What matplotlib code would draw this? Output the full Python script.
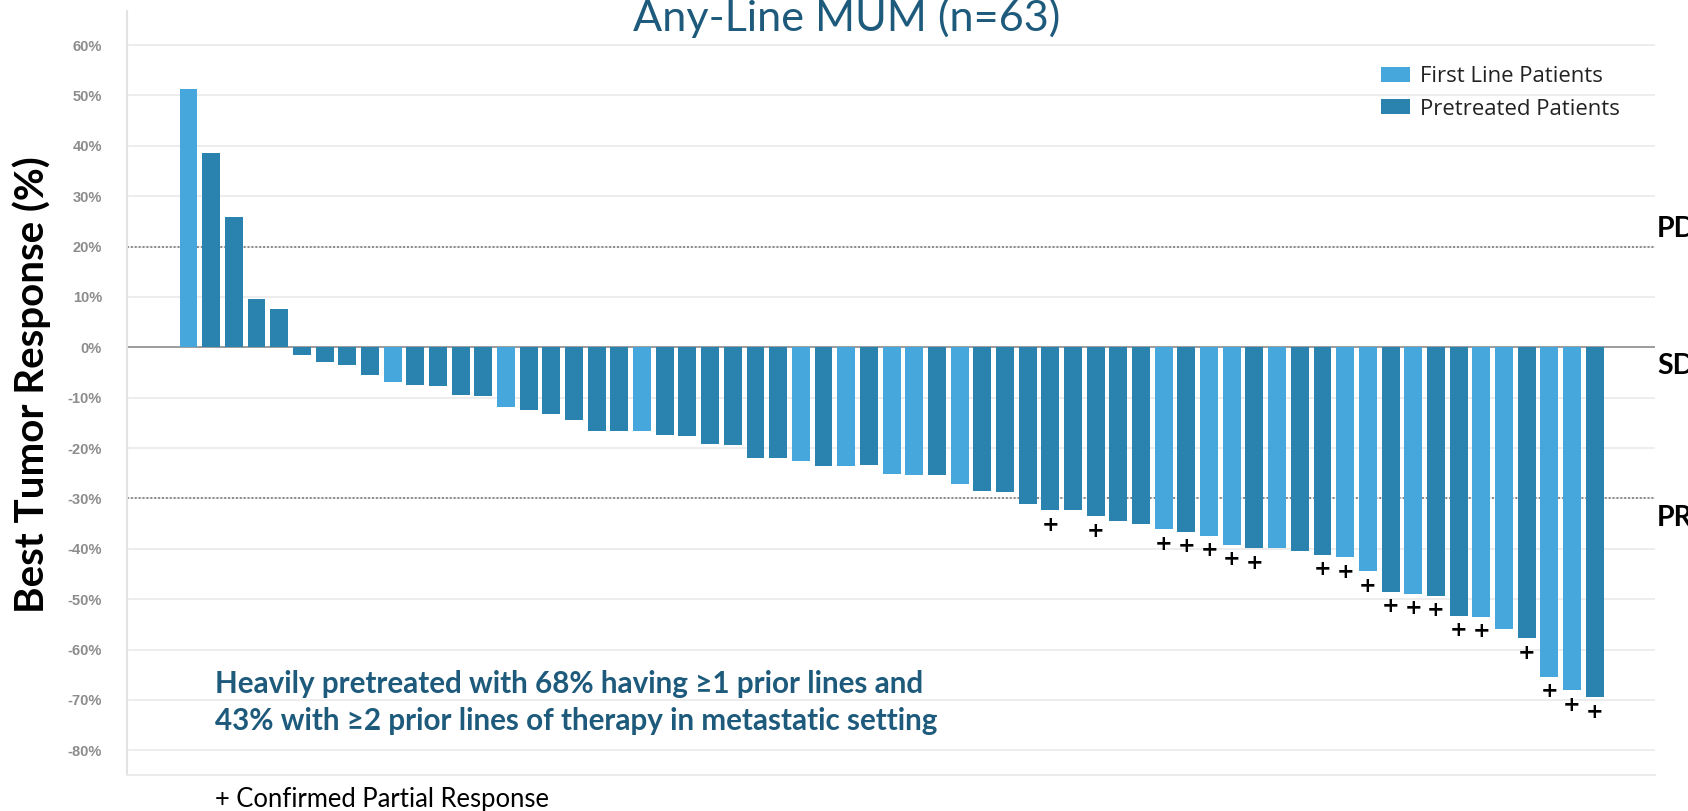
import matplotlib
matplotlib.use('Agg')
import matplotlib.pyplot as plt
from matplotlib.patches import Patch
from matplotlib.transforms import blended_transform_factory

# ---------------- data ----------------
responses = [51.2, 38.6, 25.9, 9.6, 7.6, -1.5, -2.9, -3.5, -5.4, -6.8,
             -7.4, -7.7, -9.4, -9.6, -11.9, -12.4, -13.3, -14.4, -16.6, -16.6,
             -16.6, -17.4, -17.7, -19.2, -19.4, -21.9, -21.9, -22.5, -23.5, -23.5,
             -23.4, -25.1, -25.4, -25.4, -27.2, -28.6, -28.8, -31.1, -32.3, -32.3,
             -33.5, -34.4, -35.0, -36.1, -36.6, -37.4, -39.2, -39.9, -39.9, -40.5,
             -41.2, -41.7, -44.5, -48.5, -48.9, -49.3, -53.3, -53.5, -56.0, -57.8,
             -65.4, -68.1, -69.5]
# F = first line patient, P = pretreated patient
groups = ['F', 'P', 'P', 'P', 'P', 'P', 'P', 'P', 'P', 'F',
          'P', 'P', 'P', 'P', 'F', 'P', 'P', 'P', 'P', 'P',
          'F', 'P', 'P', 'P', 'P', 'P', 'P', 'F', 'P', 'F',
          'P', 'F', 'F', 'P', 'F', 'P', 'P', 'P', 'P', 'P',
          'P', 'P', 'P', 'F', 'P', 'F', 'F', 'P', 'F', 'P',
          'P', 'F', 'F', 'P', 'F', 'P', 'P', 'F', 'F', 'P',
          'F', 'F', 'P']
confirmed_pr = [38, 40, 43, 44, 45, 46, 47, 50, 51, 52, 53, 54, 55, 56, 57,
                59, 60, 61, 62]
yticks = [60, 50, 40, 30, 20, 10, 0, -10, -20, -30, -40, -50, -60, -70, -80]
ytick_labels = ['60%', '50%', '40%', '30%', '20%', '10%', '0%', '-10%', '-20%',
                '-30%', '-40%', '-50%', '-60%', '-70%', '-80%']
legend_labels = ['First Line Patients', 'Pretreated Patients']
thresholds = [20, -30]
zone_labels = ['PD', 'SD', 'PR']
zone_values = [20, 0, -30]
title = 'Any-Line MUM (n=63)'
ylabel = 'Best Tumor Response (%)'
note_lines = ['Heavily pretreated with 68% having \u22651 prior lines and',
              '43% with \u22652 prior lines of therapy in metastatic setting']
footnote = '+ Confirmed Partial Response'

# ---------------- style ----------------
LIGHT = '#45A7DB'
DARK = '#2A83AE'
TEAL = '#1D5A7B'
color_map = {'F': LIGHT, 'P': DARK}

W, H = 1688, 811
fig = plt.figure(figsize=(W / 100, H / 100), dpi=100)
fig.patch.set_facecolor('white')

def fx(x):
    return x / W

def fy(y):
    return 1 - y / H

ax_left, ax_right, ax_top, ax_bottom = 127, 1655, 10.8, 775
ax = fig.add_axes([fx(ax_left), fy(ax_bottom), (ax_right - ax_left) / W,
                   (ax_bottom - ax_top) / H])

x = list(range(len(responses)))
ax.bar(x, responses, width=0.79, color=[color_map[g] for g in groups],
       zorder=3, linewidth=0)

ax.set_xlim(-2.71, 64.66)
ax.set_ylim(-84.9, 66.8)

# grid, zero line, thresholds
for t in yticks:
    ax.axhline(t, color='#ececec', lw=1.3, zorder=0)
ax.axhline(0, color='#969696', lw=1.3, zorder=2)
for t in thresholds:
    ax.axhline(t, color='#8a8a8a', lw=1.4, ls=(0, (1, 1)), zorder=2)

# confirmed partial response markers
for i in confirmed_pr:
    ax.text(i, responses[i] - 2.9, '+', ha='center', va='center',
            fontsize=15, fontweight='bold', color='black', zorder=4,
            family='DejaVu Sans')

# axes styling
ax.set_xticks([])
ax.set_yticks(yticks)
ax.set_yticklabels(ytick_labels, fontsize=10.5, fontweight='bold',
                   color='#8c8c8c', family='Liberation Sans')
ax.tick_params(axis='y', length=0, pad=18)
for s in ['top', 'right']:
    ax.spines[s].set_visible(False)
ax.spines['left'].set_color('#e3e3e3')
ax.spines['left'].set_linewidth(1.5)
ax.spines['bottom'].set_color('#ebebeb')
ax.spines['bottom'].set_linewidth(1.5)

# legend
handles = [Patch(facecolor=LIGHT, edgecolor='none'),
           Patch(facecolor=DARK, edgecolor='none')]
leg = ax.legend(handles, legend_labels, loc='center left',
                bbox_to_anchor=(fx(1381), fy(93)), bbox_transform=fig.transFigure,
                frameon=False, prop={'family': 'Open Sans', 'size': 15.9},
                handlelength=1.3, handleheight=0.68, handletextpad=0.47,
                labelspacing=0.5, borderpad=0, borderaxespad=0)
for txt in leg.get_texts():
    txt.set_color('#222222')

# zone labels at right edge (clipped by figure edge like the original)
bt = blended_transform_factory(fig.transFigure, ax.transData)
zone_offsets = [3.4, -3.8, -3.8]
for lab, v, off in zip(zone_labels, zone_values, zone_offsets):
    ax.text(fx(1657), v + off, lab, transform=bt, ha='left', va='center',
            fontsize=20.5, fontweight='bold', color='black',
            family=['Lato', 'DejaVu Sans'])

# texts
t_title = fig.text(fx(847), fy(31), title, ha='center', va='baseline',
                   fontsize=33, color=TEAL, family=['Lato', 'DejaVu Sans'])
t_ylab = fig.text(fx(32), fy(385), ylabel, rotation=90, ha='center',
                  va='center', fontsize=24, fontweight='bold', color='black',
                  family=['Lato', 'DejaVu Sans'])
t_note1 = fig.text(fx(215), fy(684), note_lines[0], ha='left', va='center',
                   fontsize=17, fontweight='bold', color=TEAL,
                   family=['Lato', 'DejaVu Sans'])
t_note2 = fig.text(fx(215), fy(721), note_lines[1], ha='left', va='center',
                   fontsize=17, fontweight='bold', color=TEAL,
                   family=['Lato', 'DejaVu Sans'])
t_foot = fig.text(fx(215), fy(799), footnote, ha='left', va='center',
                  fontsize=14, color='black', family=['Lato', 'DejaVu Sans'])

def fit(t, target, vertical=False):
    for _ in range(3):
        fig.canvas.draw()
        bb = t.get_window_extent(fig.canvas.get_renderer())
        cur = bb.height if vertical else bb.width
        t.set_fontsize(t.get_fontsize() * target / cur)

fit(t_title, 427)
fit(t_ylab, 458, vertical=True)
fit(t_note2, 725)
t_note1.set_fontsize(t_note2.get_fontsize())
fit(t_foot, 334)

fig.savefig('out.png', dpi=100)
